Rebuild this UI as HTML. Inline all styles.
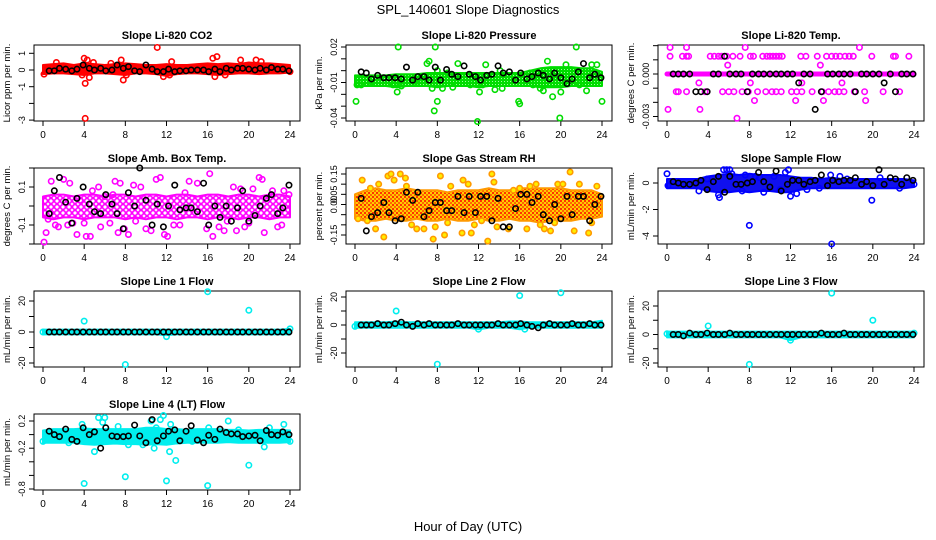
<!DOCTYPE html>
<html><head><meta charset="utf-8"><style>
html,body{margin:0;padding:0;background:#fff}
svg{display:block;font-family:"Liberation Sans",Arial,sans-serif}
</style></head><body>
<svg id="chart" width="936" height="540" viewBox="0 0 936 540">
<defs>
<pattern id="rhpat" width="4" height="4" patternUnits="userSpaceOnUse"><rect width="4" height="4" fill="#ffcc00"/><rect width="2" height="2" fill="#ff3300"/><rect x="2" y="2" width="2" height="2" fill="#ff6600"/></pattern>
<pattern id="abpat" width="6" height="6" patternUnits="userSpaceOnUse"><rect width="6" height="6" fill="#fff"/><circle cx="3" cy="3" r="2.4" fill="none" stroke="#ff00ff" stroke-width="1.6"/></pattern>
<pattern id="prpat" width="3" height="3" patternUnits="userSpaceOnUse"><rect width="3" height="3" fill="#00dd00"/><rect width="1" height="1" fill="#99ff99"/></pattern>
</defs>
<text x="468" y="14" text-anchor="middle" font-size="13">SPL_140601  Slope Diagnostics</text>
<text x="468" y="531" text-anchor="middle" font-size="13">Hour of Day (UTC)</text>
</svg>
<script>
const xTicks = [0,4,8,12,16,20,24];
const bandHours = [0,1,2,3,4,5,6,7,8,9,10,11,12,13,14,15,16,17,18,19,20,21,22,23,24];
const blackHours = [0.6,1.1,1.6,2.2,2.8,3.3,3.9,4.5,5.0,5.6,6.1,6.7,7.2,7.8,8.3,8.9,9.4,10.0,10.6,11.1,11.7,12.2,12.8,13.3,13.9,14.4,15.0,15.6,16.1,16.7,17.2,17.8,18.3,18.9,19.4,20.0,20.6,21.1,21.7,22.2,22.8,23.3,23.9];

// Panel 1: CO2
const co2Lo = [-0.25,-0.2,-0.2,-0.25,-0.3,-0.2,-0.2,-0.25,-0.3,-0.2,-0.2,-0.25,-0.35,-0.25,-0.2,-0.2,-0.25,-0.3,-0.25,-0.2,-0.2,-0.25,-0.2,-0.2,-0.15];
const co2Hi = [0.3,0.35,0.4,0.3,0.4,0.35,0.3,0.35,0.4,0.35,0.3,0.3,0.35,0.3,0.3,0.35,0.4,0.35,0.4,0.35,0.45,0.4,0.4,0.35,0.3];
const co2Pts = [[4.1,-0.8],[4.1,-2.9],[4.0,0.7],[4.3,0.6],[4.5,-0.45],[11.1,1.35],[7.8,-0.6],[7.6,0.6],[16.5,0.7],[16.9,0.8],[19.2,0.6],[20.7,0.6],[11.7,-0.4],[12.3,-0.3],[16.7,-0.4],[8.1,-0.3],[3.8,-0.3],[0.1,-0.25],[24,-0.1],[12.5,0.5],[1.3,0.45],[4.9,0.45],[6.6,0.4],[17.7,-0.3],[21.2,0.5]];
const co2Black = [-0.05,-0.05,0.1,0.05,-0.05,0.05,0.3,0.1,0,0.1,-0.05,0,0.3,0.1,0.2,-0.05,-0.1,0.3,0.05,-0.1,-0.1,0.05,-0.1,-0.05,-0.05,0,0,0,-0.1,0.05,-0.1,0.1,0,0.1,0.1,0.05,0,0.1,0,0.15,0.05,0.05,-0.05];
const co2Ticks = [-3,-2,-1,0,1];
const co2Labels = ["-3","","-1","0","1"];

// Panel 2: Pressure
const prLo = [-0.013,-0.013,-0.013,-0.013,-0.014,-0.013,-0.013,-0.013,-0.014,-0.013,-0.013,-0.013,-0.014,-0.013,-0.013,-0.013,-0.013,-0.013,-0.014,-0.014,-0.014,-0.013,-0.013,-0.013,-0.013];
const prHi = [-0.004,-0.004,-0.004,-0.004,-0.003,-0.003,-0.003,-0.002,-0.002,-0.002,-0.002,-0.002,-0.002,-0.002,-0.002,-0.002,-0.002,0.0,0.002,0.003,0.003,0.003,0.002,0.002,-0.001];
const prPts = [[0.1,-0.026],[0.2,-0.012],[0.6,-0.012],[1.5,-0.01],[4.2,0.02],[4.1,-0.018],[4.5,-0.013],[3.7,-0.012],[5.8,-0.01],[7.0,0.006],[7.5,-0.015],[7.7,-0.034],[8.0,-0.026],[8.0,0.0],[7.8,0.02],[8.5,-0.015],[9.5,-0.014],[10.0,0.006],[11.2,-0.012],[11.9,-0.043],[12.1,-0.018],[12.4,-0.012],[13.6,-0.016],[14.3,-0.015],[15.9,-0.026],[16,-0.028],[17.3,-0.012],[18.0,-0.015],[18.3,-0.017],[18.7,0.008],[19.2,-0.022],[19.9,-0.040],[20.0,-0.018],[20.5,0.005],[21.5,0.02],[21.8,-0.012],[22.5,-0.017],[23.0,0.005],[23.5,0.005],[24,-0.026],[12.7,0.005],[14.1,0.0],[6.7,-0.008],[9,-0.002],[17,-0.002],[7.2,0.008]];
const prBlack = [-0.001,-0.002,-0.007,-0.004,-0.006,-0.006,-0.006,-0.007,0.003,-0.008,-0.005,-0.005,-0.008,0.003,-0.008,0.001,-0.003,-0.005,0.004,-0.003,-0.005,-0.008,-0.004,-0.003,0.004,-0.002,-0.001,-0.008,-0.002,-0.007,-0.005,-0.002,-0.004,-0.007,-0.002,-0.006,-0.011,-0.007,-0.001,0.006,-0.006,-0.003,-0.006];
const prTicks = [-0.04,-0.03,-0.02,-0.01,0.0,0.01,0.02];
const prLabels = ["-0.04","","","-0.01","","","0.02"];

// Panel 3: Li-820 Temp
const tmLo = [0,0,0,0,0,0,0,0,0,0,0,0,0,0,0,0,0,0,0,0,0,0,0,0,0];
const tmHi = [0,0,0,0,0,0,0,0,0,0,0,0,0,0,0,0,0,0,0,0,0,0,0,0,0];
const tmPts = [[0.3,0.00125],[1.5,0.00125],[1.9,0.00125],[2.1,0.00125],[4.2,0.00125],[4.6,0.00125],[5.0,0.00125],[5.3,0.00125],[5.8,0.00125],[6.4,0.00125],[7.1,0.00125],[8.1,0.00125],[8.4,0.00125],[9.3,0.00125],[9.7,0.00125],[10.0,0.00125],[10.3,0.00125],[10.6,0.00125],[10.9,0.00125],[11.2,0.00125],[13.0,0.00125],[13.5,0.00125],[14.6,0.00125],[15.5,0.00125],[16.0,0.00125],[16.4,0.00125],[16.8,0.00125],[17.3,0.00125],[17.7,0.00125],[18.1,0.00125],[19.9,0.00125],[22.0,0.00125],[22.2,0.00125],[23.5,0.00125],
[0.3,0.001875],[1.9,0.001875],[7.6,0.001875],[18.7,0.001875],[5.9,0.000625],[14.9,0.000625],[3.1,-0.000625],[8.1,-0.000625],[13.1,-0.000625],[17.0,-0.000625],
[0.9,-0.00125],[1.1,-0.00125],[1.9,-0.00125],[3.7,-0.00125],[5.4,-0.00125],[6.0,-0.00125],[6.5,-0.00125],[7.3,-0.00125],[7.9,-0.00125],[8.8,-0.00125],[9.6,-0.00125],[10.2,-0.00125],[10.6,-0.00125],[11.1,-0.00125],[12.1,-0.00125],[12.6,-0.00125],[13.1,-0.00125],[14.1,-0.00125],[15.1,-0.00125],[15.7,-0.00125],[16.3,-0.00125],[16.7,-0.00125],[17.2,-0.00125],[18.2,-0.00125],[19.2,-0.00125],[21.0,-0.00125],[22.6,-0.00125],
[8.5,-0.001875],[12.5,-0.001875],[15.2,-0.001875],[19.3,-0.001875],[0.1,-0.0025],[3.2,-0.0025],[6.8,-0.003125]];
const tmBlack = [0,0,0,0,-0.00125,-0.00125,-0.00125,0,0,0.00125,0,0,0,-0.00125,0,0,0,0,0,0,0,0,-0.000625,0,0,-0.0025,-0.00125,0,0,0,0,0,-0.00125,0,0,0,0,-0.000625,0,-0.00125,0,0,0];
const tmTicks = [-0.003,-0.002,-0.001,0,0.001,0.002];
const tmLabels = ["-0.003","","","0.000","",""];

// Panel 4: Amb. Box Temp
const abLo = [-0.06,-0.07,-0.06,-0.06,-0.07,-0.06,-0.06,-0.06,-0.07,-0.06,-0.07,-0.06,-0.06,-0.07,-0.06,-0.06,-0.07,-0.06,-0.06,-0.07,-0.06,-0.06,-0.07,-0.06,-0.06];
const abHi = [0.05,0.06,0.06,0.05,0.06,0.06,0.05,0.06,0.06,0.05,0.06,0.06,0.05,0.06,0.06,0.05,0.06,0.06,0.05,0.06,0.06,0.05,0.06,0.06,0.05];
const abPts = [[0.1,-0.19],[0.3,-0.14],[0.5,-0.07],[0.8,0.13],[1.2,-0.1],[1.5,-0.11],[2.0,0.14],[2.4,-0.1],[2.6,0.12],[3.3,-0.15],[3.6,0.03],[4.0,-0.09],[4.2,-0.16],[4.6,-0.16],[4.8,0.08],[5.4,0.1],[5.6,-0.11],[6.0,0.05],[6.5,-0.09],[7.0,0.13],[7.3,-0.14],[7.5,0.12],[7.9,-0.12],[8.3,-0.15],[8.8,0.11],[9.5,0.1],[10.0,-0.12],[10.5,-0.13],[11.0,0.14],[11.4,0.15],[11.8,-0.15],[12.1,-0.16],[12.7,-0.1],[13.3,-0.1],[14.2,0.13],[15.0,0.12],[15.9,-0.12],[16.2,0.17],[16.5,-0.16],[17.1,-0.11],[17.6,-0.13],[18.5,0.1],[18.8,-0.13],[19.2,0.09],[19.6,-0.11],[20.4,0.09],[21.0,0.15],[21.3,0.14],[21.5,-0.14],[22.3,0.08],[22.8,-0.11],[23.2,-0.1],[23.4,0.08],[23.9,0.06],[20.0,-0.09],[9.0,-0.08],[2.9,-0.09],[13.8,0.07],[17.9,-0.08],[6.8,0.06]];
const abBlack = [-0.04,0.08,0.15,0.02,-0.09,0.04,0.1,0.01,-0.03,-0.04,0.06,0.01,-0.04,-0.12,0.07,0.0,0.2,0.03,-0.1,0.01,-0.11,0.0,0.11,-0.02,-0.01,-0.01,-0.03,0.12,-0.1,0,-0.06,0,-0.08,-0.01,0.08,-0.08,-0.05,0,0.04,0.06,-0.04,-0.01,0.11];
const abTicks = [-0.2,-0.1,0,0.1,0.2];
const abLabels = ["","-0.1","","0.1",""];

// Panel 5: Gas Stream RH
const rhLo = [-0.07,-0.08,-0.08,-0.07,-0.08,-0.08,-0.07,-0.08,-0.08,-0.07,-0.08,-0.08,-0.07,-0.08,-0.08,-0.07,-0.08,-0.08,-0.09,-0.08,-0.08,-0.08,-0.07,-0.07,-0.06];
const rhHi = [0.05,0.07,0.08,0.07,0.07,0.08,0.07,0.07,0.07,0.06,0.07,0.07,0.07,0.08,0.07,0.07,0.08,0.08,0.08,0.08,0.08,0.07,0.07,0.07,0.05];
const rhPts = [[0.7,0.12],[1.5,0.08],[2.0,-0.12],[2.3,0.1],[2.8,-0.16],[3.2,0.14],[3.5,0.15],[3.8,0.12],[4.4,0.15],[4.9,0.13],[5.5,-0.1],[6.0,-0.12],[6.7,-0.12],[7.6,-0.17],[7.8,-0.11],[8.3,0.14],[8.7,-0.15],[9.3,0.09],[10.5,0.12],[11.0,0.1],[10.4,-0.14],[11.3,-0.14],[11.6,-0.1],[12.9,-0.18],[13.3,0.15],[13.5,0.11],[13.8,-0.11],[14.9,-0.12],[15.4,0.07],[16.7,-0.12],[17.6,0.1],[18.4,-0.12],[19.0,-0.13],[19.7,0.1],[20.2,0.1],[20.9,0.16],[21.3,-0.13],[21.8,0.1],[22.7,-0.14],[23.5,0.09],[0.3,-0.07],[1.2,-0.08],[9.0,-0.09],[16.0,0.08],[17.0,0.09],[23.0,-0.09],[5.0,0.09],[12.3,-0.08],[18.0,-0.1],[19.4,-0.09]];
const rhBlack = [0.03,-0.13,-0.06,-0.04,0.01,-0.04,-0.08,-0.07,0.06,0.02,0.06,-0.06,-0.03,0.01,0.01,-0.03,-0.03,0.04,-0.04,0.04,-0.04,0.04,0.04,-0.08,0.03,-0.11,-0.11,-0.02,0.05,0.05,0.01,0.04,-0.05,-0.08,0.0,-0.07,0.04,-0.05,0.04,0.04,-0.08,0.0,0.04];
const rhTicks = [-0.15,-0.10,-0.05,0,0.05,0.10,0.15];
const rhLabels = ["-0.15","","","0.00","0.05","","0.15"];

// Panel 6: Sample Flow
const sfLo = [-0.4,-0.4,-0.4,-0.4,-0.6,-0.7,-0.7,-0.6,-0.7,-0.6,-0.6,-0.7,-0.7,-0.5,-0.4,-0.4,-0.4,-0.4,-0.4,-0.4,-0.4,-0.4,-0.4,-0.4,-0.3];
const sfHi = [0.3,0.3,0.3,0.3,0.5,0.6,0.7,0.6,0.7,0.6,0.6,0.6,0.5,0.4,0.4,0.3,0.4,0.3,0.3,0.3,0.3,0.3,0.3,0.3,0.2];
const sfPts = [[0,0.7],[0.1,-0.2],[3.1,-0.6],[3.9,0.3],[5.0,-0.9],[5.1,-1.1],[5.5,1.0],[5.8,1.0],[6.1,1.0],[6.3,0.7],[7.3,-0.6],[7.6,0.6],[8.0,-3.2],[8.6,0.5],[9.4,-0.7],[10.4,0.5],[11.5,0.8],[11.8,1.0],[12.0,-1.0],[12.6,-0.8],[13.6,-0.5],[14.8,-0.4],[15.9,0.6],[16.0,-4.6],[16.8,0.5],[19.9,-1.3],[22.6,-0.4],[24,-0.1],[20.7,0.4],[17.5,0.3],[9,0.4],[11,-0.5]];
const sfBlack = [0.1,0.0,-0.1,-0.1,0.0,0.2,-0.5,0.1,0.5,-0.7,0.5,-0.1,-0.1,0.0,0.1,0.8,0.1,-0.3,0.9,-0.6,-0.1,0.2,0.2,-0.1,0.1,0.2,0.6,-0.2,0.2,0.1,0.2,0.2,0.4,-0.1,0.1,-0.2,1.0,-0.1,0.4,0.3,-0.1,0.4,0.2];
const sfTicks = [-4,-2,0];
const sfLabels = ["-4","-2","0"];

// Panels 7-9: Line 1/2/3 Flow
const l1Lo = [-1.5,-1.5,-1.5,-1.5,-1.5,-1.5,-1.5,-1.5,-1.5,-1.5,-1.5,-1.5,-2,-1.5,-1.5,-1.5,-1.5,-1.5,-1.5,-1.5,-1.5,-1.5,-1.5,-1.5,-1.5];
const l1Hi = [1.5,1.5,1.5,1.5,1.5,1.5,1.5,1.5,1.5,1.5,1.5,1.5,1.5,1.5,1.5,1.5,1.5,1.5,1.5,1.5,1.5,1.5,1.5,1.5,2];
const l1Pts = [[4,7],[8,-21],[16,26],[20,14],[12,-3],[24,2],[0,0]];
const l1Black = [0,0,0,0,0,0,0,0,0,0,0,0,0,0,0,0,0,0,0,0,0,0,0,0,0,0,0,0,0,0,0,0,0,0,0,0,0,0,0,0,0,0,0];
const l2Lo = [-2,-2,-2,-2,-2,-2,-2,-2,-2,-2,-2,-2,-3,-2,-2,-2,-3,-2,-2,-2,-2,-2,-2,-2,-2];
const l2Hi = [2,2,2,2,2.5,2,2,2,2,2,2,2,2,2,2,2.5,2.5,2,2,2,2,2,2,2,3];
const l2Pts = [[4,10],[8,-28],[16,21],[20,23],[12,-3],[16.5,-3],[0,-1]];
const l2Black = [0,0,0,1,0,0,1,2,0,-1,1,0,1,0,0,0,0,1,0,0,0,0,0,0,1,0,0,0,1,0,-1,-2,0,1,0,0,0,1,0,0,1,0,0];
const l3Lo = [-2,-2,-2,-2,-2,-2,-2,-2,-2,-2,-2,-2,-4,-2,-2,-2,-2,-2,-2,-2,-2,-2,-2,-2,-2];
const l3Hi = [2,2,2,2,2,2,2,2,2,2,2,2,2,2,2,2,2,2,2,2,2,2,2,2,2];
const l3Pts = [[4,6],[8,-21],[16,29],[20,10],[12,-4],[24,1],[0,0.5]];
const l3Black = [0,0,-1,1,0,0,1,0,0,0,1,0,0,0,0,0,0,0,0,0,0,0,0,0,0,0,1,0,0,0,1,0,0,0,0,0,0,0,0,0,0,0,0];
const lTicks = [-20,-10,0,10,20];
const lLabels = ["-20","","0","","20"];

// Panel 10: Line 4 (LT)
const l4Lo = [-0.12,-0.12,-0.12,-0.12,-0.14,-0.15,-0.14,-0.13,-0.14,-0.14,-0.15,-0.14,-0.15,-0.13,-0.12,-0.12,-0.12,-0.12,-0.11,-0.12,-0.12,-0.12,-0.12,-0.12,-0.11];
const l4Hi = [0.06,0.08,0.08,0.08,0.09,0.08,0.08,0.08,0.08,0.08,0.1,0.1,0.08,0.08,0.07,0.08,0.08,0.08,0.07,0.07,0.06,0.07,0.07,0.07,0.06];
const l4Pts = [[0,-0.1],[3.8,0.15],[4,-0.72],[5,-0.25],[5.4,0.25],[6,0.25],[5.8,0.18],[7.3,0.12],[8,-0.62],[8.3,-0.15],[10.5,0.2],[10.8,-0.2],[11,0.1],[11.4,0.22],[11.7,0.28],[12,-0.68],[12.3,-0.25],[12.9,-0.38],[12.4,0.15],[16,-0.75],[16.1,0.1],[18,0.2],[20,-0.45],[21.5,-0.18],[22,0.1],[23.4,0.15],[24,-0.1],[2.5,-0.12],[9.7,-0.15],[14.5,-0.1],[19,0.07]];
const l4Black = [0.05,0.0,-0.03,0.08,-0.07,-0.1,0.1,0.0,0.04,-0.2,0.1,-0.02,-0.03,-0.03,-0.02,0.14,-0.02,-0.12,0.22,-0.09,-0.02,0.05,0.07,-0.09,0.05,0.13,-0.08,-0.12,-0.01,-0.07,0.08,0.03,0.01,0.01,-0.03,-0.02,-0.01,-0.09,0.06,0.0,-0.01,0.04,0.0];
const l4Ticks = [-0.8,-0.6,-0.4,-0.2,0,0.2];
const l4Labels = ["-0.8","","","-0.2","","0.2"];

const NS = "http://www.w3.org/2000/svg";
const svg = document.getElementById("chart");
function mk(tag, attrs, parent){
  const e = document.createElementNS(NS, tag);
  for (const k in attrs) e.setAttribute(k, attrs[k]);
  (parent || svg).appendChild(e);
  return e;
}
const colLeft = [34, 346, 658];
const rowTop = [45, 168, 291, 414];
const W = 266, H = 76;

function panel(o){
  const L = colLeft[o.col], T = rowTop[o.row], B = T + H;
  const g = mk("g", {});
  
  
  const xs = h => L + 9 + h * (247 / 24);
  const ys = v => o.y0px + (v - o.v0) * (o.y1px - o.y0px) / (o.v1 - o.v0);
  const t = mk("text", {x: L + W/2, y: T - 6, "text-anchor": "middle", "font-size": 11, "font-weight": "bold"}, g);
  t.textContent = o.title;
  
  
  const box = mk("rect", {x: L, y: T, width: W, height: H, fill: "none", stroke: "#000", "stroke-width": 1}, g);
  
  
  xTicks.forEach(h => {
    mk("line", {x1: xs(h), x2: xs(h), y1: B, y2: B + 5, stroke: "#000"}, g);
    const tx = mk("text", {x: xs(h), y: B + 17, "text-anchor": "middle", "font-size": 10}, g);
    tx.textContent = h;
    
    
  });
  o.ticks.forEach((v, i) => {
    mk("line", {x1: L - 5, x2: L, y1: ys(v), y2: ys(v), stroke: "#000"}, g);
    if (o.labels[i]) {
      const ty = mk("text", {x: L - 9, y: ys(v), "text-anchor": "middle", "font-size": 9, transform: `rotate(-90 ${L - 9} ${ys(v)})`}, g);
      ty.textContent = o.labels[i];
      
      
    }
  });
  const yl = mk("text", {x: L - 24, y: T + H/2, "text-anchor": "middle", "font-size": 9.5, transform: `rotate(-90 ${L - 24} ${T + H/2})`}, g);
  yl.textContent = o.ylab;
  
  
  let pts = bandHours.map((h, i) => xs(h) + "," + ys(o.hi[i]));
  pts = pts.concat(bandHours.slice().reverse().map((h, j) => xs(h) + "," + ys(o.lo[bandHours.length - 1 - j])));
  const band = mk("polygon", {points: pts.join(" "), fill: o.fill, stroke: o.color, "stroke-width": o.bw || 2, "stroke-linejoin": "round"}, g);
  
  
  o.pts.forEach(p => {
    const c = mk("circle", {cx: xs(p[0]), cy: ys(p[1]), r: 2.7, fill: o.ptFill || "none", stroke: o.color, "stroke-width": 1.6}, g);
    
    
  });
  blackHours.forEach((h, i) => {
    const c = mk("circle", {cx: xs(h), cy: ys(o.black[i]), r: 2.7, fill: "none", stroke: "#000", "stroke-width": 1.6}, g);
    
    
  });
}

panel({name:"panel-co2", col:0,row:0,title:"Slope Li-820 CO2",ylab:"Licor ppm per min.",v0:0,y0px:70,v1:1,y1px:53.3,ticks:co2Ticks,labels:co2Labels,lo:co2Lo,hi:co2Hi,pts:co2Pts,black:co2Black,color:"#ff0000",fill:"#ff0000"});
panel({name:"panel-pressure", col:1,row:0,title:"Slope Li-820 Pressure",ylab:"kPa per min.",v0:0.02,y0px:47,v1:-0.04,y1px:118,ticks:prTicks,labels:prLabels,lo:prLo,hi:prHi,pts:prPts,black:prBlack,color:"#00dd00",fill:"url(#prpat)"});
panel({name:"panel-temp", col:2,row:0,title:"Slope Li-820 Temp.",ylab:"degrees C per min.",v0:0,y0px:74,v1:-0.003,y1px:116.5,ticks:tmTicks,labels:tmLabels,lo:tmLo,hi:tmHi,pts:tmPts,black:tmBlack,color:"#ff00ff",fill:"#ff00ff",bw:5});
panel({name:"panel-amb-box-temp", col:0,row:1,title:"Slope Amb. Box Temp.",ylab:"degrees C per min.",v0:0.1,y0px:187,v1:-0.1,y1px:225,ticks:abTicks,labels:abLabels,lo:abLo,hi:abHi,pts:abPts,black:abBlack,color:"#ff00ff",fill:"url(#abpat)",bw:0});
panel({name:"panel-gas-rh", col:1,row:1,title:"Slope Gas Stream RH",ylab:"percent per min.",v0:0.15,y0px:174,v1:-0.15,y1px:235,ticks:rhTicks,labels:rhLabels,lo:rhLo,hi:rhHi,pts:rhPts,black:rhBlack,color:"#ff9900",fill:"url(#rhpat)",ptFill:"#ffee00",bw:0});
panel({name:"panel-sample-flow", col:2,row:1,title:"Slope Sample Flow",ylab:"mL/min per min.",v0:0,y0px:183,v1:-4,y1px:236,ticks:sfTicks,labels:sfLabels,lo:sfLo,hi:sfHi,pts:sfPts,black:sfBlack,color:"#0000ff",fill:"#1010ee"});
panel({name:"panel-line1-flow", col:0,row:2,title:"Slope Line 1 Flow",ylab:"mL/min per min.",v0:20,y0px:301,v1:-20,y1px:363,ticks:lTicks,labels:lLabels,lo:l1Lo,hi:l1Hi,pts:l1Pts,black:l1Black,color:"#00eeee",fill:"#00eeee"});
panel({name:"panel-line2-flow", col:1,row:2,title:"Slope Line 2 Flow",ylab:"mL/min per min.",v0:20,y0px:297,v1:-20,y1px:353,ticks:lTicks,labels:lLabels,lo:l2Lo,hi:l2Hi,pts:l2Pts,black:l2Black,color:"#00eeee",fill:"#00eeee"});
panel({name:"panel-line3-flow", col:2,row:2,title:"Slope Line 3 Flow",ylab:"mL/min per min.",v0:20,y0px:306,v1:-20,y1px:363,ticks:lTicks,labels:lLabels,lo:l3Lo,hi:l3Hi,pts:l3Pts,black:l3Black,color:"#00eeee",fill:"#00eeee"});
panel({name:"panel-line4-flow", col:0,row:3,title:"Slope Line 4 (LT) Flow",ylab:"mL/min per min.",v0:0.2,y0px:421,v1:-0.8,y1px:489,ticks:l4Ticks,labels:l4Labels,lo:l4Lo,hi:l4Hi,pts:l4Pts,black:l4Black,color:"#00eeee",fill:"#00eeee"});
</script>
</body></html>
